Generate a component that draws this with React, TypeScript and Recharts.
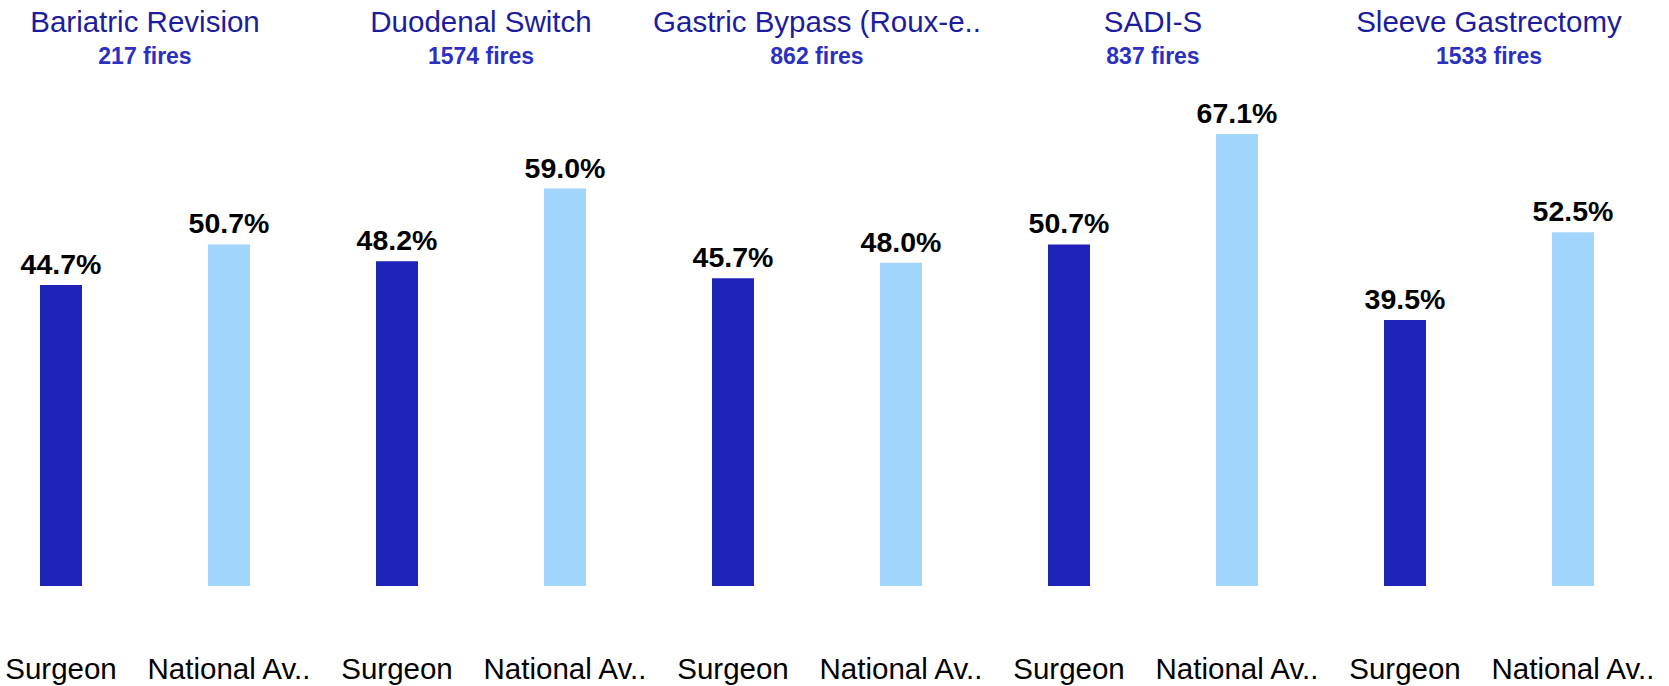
import React from 'react';
import { BarChart, Bar, XAxis, YAxis, Cell, LabelList } from 'recharts';

const procedures = [
  'Bariatric Revision',
  'Duodenal Switch',
  'Gastric Bypass (Roux-e..',
  'SADI-S',
  'Sleeve Gastrectomy',
];
const fires = [217, 1574, 862, 837, 1533];
const seriesLabels = ['Surgeon', 'National Av..'];
const surgeonValues = [44.7, 48.2, 45.7, 50.7, 39.5];
const nationalValues = [50.7, 59.0, 48.0, 67.1, 52.5];
const seriesColors = ['#1f22b8', '#a2d5fc'];

const FONT = "Arial, 'Liberation Sans', Helvetica, sans-serif";

const data = procedures.flatMap((p, i) => [
  { id: `${p}|0`, procedure: p, series: 0, value: surgeonValues[i] },
  { id: `${p}|1`, procedure: p, series: 1, value: nationalValues[i] },
]);

const BottomTick = (props: any) => {
  const { x, y, payload } = props;
  const row = data.find((d) => d.id === payload.value);
  if (!row) return null;
  return (
    <text x={x} y={y + 93} textAnchor="middle" fontSize={29.5} fill="#000" fontFamily={FONT}>
      {seriesLabels[row.series]}
    </text>
  );
};

const TopTick = (props: any) => {
  const { x, y, payload } = props;
  const i = procedures.indexOf(payload.value);
  return (
    <g>
      <text x={x} y={y - 15.5} textAnchor="middle" fontSize={29.5} fill="#1c1c9e" fontFamily={FONT}>
        {payload.value}
      </text>
      <text x={x} y={y + 17} textAnchor="middle" fontSize={23} fontWeight="bold" fill="#2b30c2" fontFamily={FONT}>
        {`${fires[i]} fires`}
      </text>
    </g>
  );
};

const ValueLabel = (props: any) => {
  const { x, y, width, value } = props;
  return (
    <text
      x={Number(x) + Number(width) / 2}
      y={Number(y) - 11}
      textAnchor="middle"
      fontSize={28.5}
      fontWeight="bold"
      fill="#000"
      fontFamily={FONT}
    >
      {`${Number(value).toFixed(1)}%`}
    </text>
  );
};

export default function App() {
  return (
    <div style={{ position: 'absolute', left: -23, top: 0 }}>
      <BarChart width={1680} height={686} data={data} margin={{ top: 0, right: 0, bottom: 0, left: 0 }}>
        <XAxis
          xAxisId="top"
          orientation="top"
          dataKey="procedure"
          allowDuplicatedCategory={false}
          height={47.12}
          axisLine={false}
          tickLine={false}
          tickSize={0}
          tickMargin={0}
          interval={0}
          tick={TopTick}
        />
        <XAxis
          dataKey="id"
          height={100}
          axisLine={false}
          tickLine={false}
          tickSize={0}
          tickMargin={0}
          interval={0}
          tick={BottomTick}
        />
        <YAxis hide domain={[0, 80]} />
        <Bar dataKey="value" barSize={42} isAnimationActive={false}>
          {data.map((d) => (
            <Cell key={d.id} fill={seriesColors[d.series]} />
          ))}
          <LabelList dataKey="value" content={ValueLabel} />
        </Bar>
      </BarChart>
    </div>
  );
}
